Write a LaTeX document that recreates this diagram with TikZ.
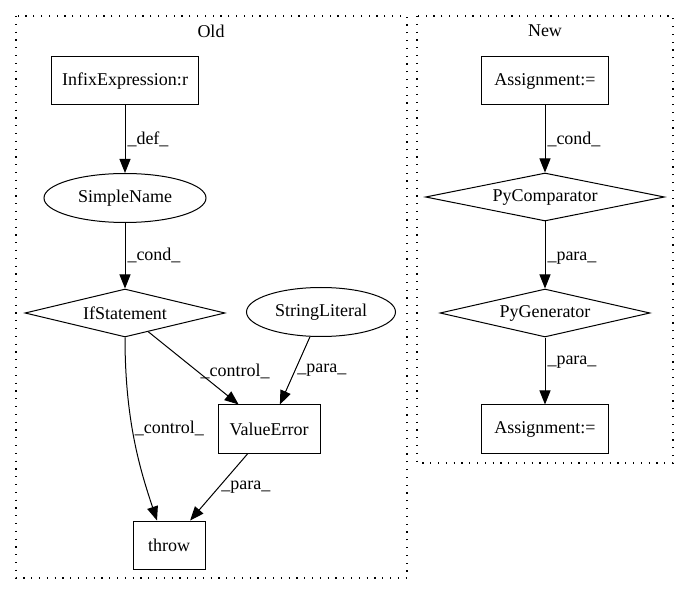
\documentclass[tikz,border=0pt]{standalone}
\usepackage{fontspec}
\setmainfont{Liberation Serif}
\usetikzlibrary{shapes.geometric,arrows.meta}

\begin{document}
\begin{tikzpicture}[x=1pt,y=1pt]
    \tikzstyle{every node}+=[inner sep=0pt, font=\fontsize{18}{21}\selectfont]
    \tikzstyle{box}=[draw, rectangle, minimum height=48pt, line width=1pt]
    \tikzstyle{oval}=[draw, ellipse, minimum height=49pt, line width=1pt]
    \tikzstyle{cond}=[draw, diamond, shape aspect=4, minimum height=48pt, line width=1pt]
    \tikzstyle{edge}=[line width=1pt, -{Triangle[length=14pt,width=11pt]}]
    \tikzstyle{lbl}=[right, inner sep=2pt]
    \tikzstyle{cluster}=[line width=1.2pt, dash pattern=on 1.2pt off 6.6pt]
    \useasboundingbox (0,0) rectangle (689,-596);
    \draw [cluster] (16,-16) rectangle (407,-578);
    \node (old) at (211,-31) {Old};
    \node [box, minimum width=147pt] (infix) at (125,-81) {InfixExpression:r};
    \node [oval, minimum width=162pt] (simplename) at (125,-198) {SimpleName};
    \node [cond, minimum width=200pt] (ifstmt) at (125,-313) {IfStatement};
    \node [oval, minimum width=149pt] (strlit) at (321,-312) {StringLiteral};
    \node [box, minimum width=102pt] (valerr) at (269,-429) {ValueError};
    \node [box, minimum width=72pt] (throw) at (169,-545) {throw};
    \draw [edge] (infix) -- node [lbl] {\_def\_} (simplename);
    \draw [edge] (simplename) -- node [lbl] {\_cond\_} (ifstmt);
    \draw [edge] (ifstmt) -- node [lbl, pos=0.55] {\_control\_} (valerr);
    \draw [edge] (strlit) -- node [lbl] {\_para\_} (valerr);
    \draw [edge] (ifstmt.south) .. controls +(0,-83) and +(-17,51) .. node [lbl, pos=0.43] {\_control\_} ([xshift=-12pt]throw.north);
    \draw [edge] (valerr) -- node [lbl] {\_para\_} (throw);
    \draw [cluster] (417,-16) rectangle (673,-463);
    \node (new) at (545,-31) {New};
    \node [box, minimum width=127pt] (assign1) at (545,-81) {Assignment:=};
    \node [cond, minimum width=239pt] (pycomp) at (545,-197) {PyComparator};
    \node [cond, minimum width=210pt] (pygen) at (545,-313) {PyGenerator};
    \node [box, minimum width=127pt] (assign2) at (545,-429) {Assignment:=};
    \draw [edge] (assign1) -- node [lbl] {\_cond\_} (pycomp);
    \draw [edge] (pycomp) -- node [lbl, pos=0.54] {\_para\_} (pygen);
    \draw [edge] (pygen) -- node [lbl, pos=0.37] {\_para\_} (assign2);
\end{tikzpicture}
\end{document}
